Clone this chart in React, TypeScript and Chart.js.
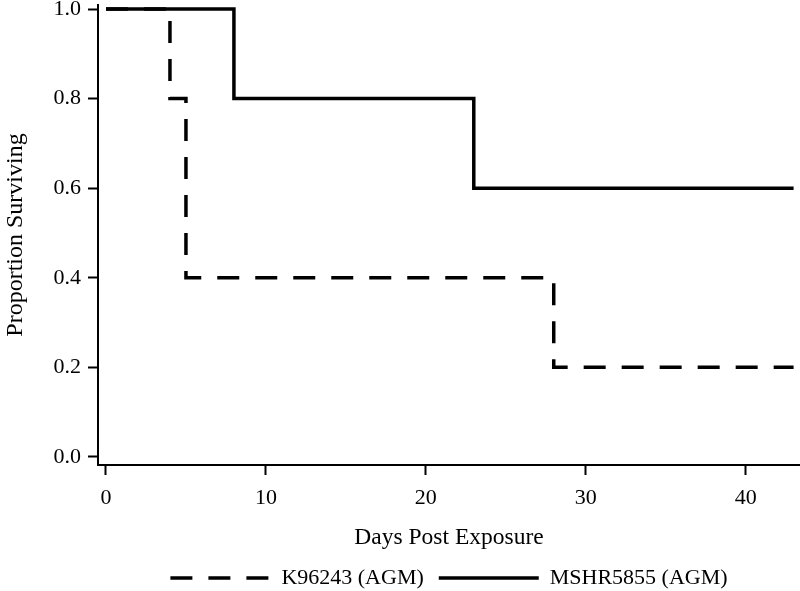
import React, { useEffect, useRef } from 'react';
import { Chart, registerables } from 'chart.js';

Chart.register(...registerables);

// ---- Data ----
const seriesNames = ['K96243 (AGM)', 'MSHR5855 (AGM)'];
const k96243Days = [0, 4, 5, 28, 43];
const k96243Surv = [1.0, 0.8, 0.4, 0.2, 0.2];
const mshr5855Days = [0, 8, 23, 43];
const mshr5855Surv = [1.0, 0.8, 0.6, 0.6];
const xTickValues = [0, 10, 20, 30, 40];
const yTickValues = [0.0, 0.2, 0.4, 0.6, 0.8, 1.0];
const xTitle = 'Days Post Exposure';
const yTitle = 'Proportion Surviving';

const FONT = "'Liberation Serif', 'Times New Roman', Times, serif";
const FS = 22;

export default function App() {
  const ref = useRef<HTMLCanvasElement | null>(null);

  useEffect(() => {
    if (!ref.current) return;
    const toPts = (xs: number[], ys: number[]) => xs.map((x, i) => ({ x, y: ys[i] }));
    const chart = new Chart(ref.current, {
      type: 'line',
      data: {
        datasets: [
          {
            label: seriesNames[0],
            data: toPts(k96243Days, k96243Surv),
            borderColor: '#000',
            backgroundColor: '#000',
            borderWidth: 3.5,
            borderDash: [22, 16],
            stepped: 'before',
            pointRadius: 0,
            fill: false,
          },
          {
            label: seriesNames[1],
            data: toPts(mshr5855Days, mshr5855Surv),
            borderColor: '#000',
            backgroundColor: '#000',
            borderWidth: 3.5,
            stepped: 'before',
            pointRadius: 0,
            fill: false,
          },
        ],
      },
      options: {
        animation: false,
        responsive: true,
        maintainAspectRatio: false,
        devicePixelRatio: 1,
        layout: { padding: { top: 5, left: 0, right: 0, bottom: -8 } },
        plugins: {
          tooltip: { enabled: false },
          legend: {
            position: 'bottom',
            fullSize: false,
            labels: {
              usePointStyle: true,
              pointStyle: 'line',
              pointStyleWidth: 100,
              color: '#000',
              padding: 15,
              font: { family: FONT, size: FS },
              generateLabels: (c: any) => {
                const items = Chart.defaults.plugins.legend.labels.generateLabels(c);
                return items.map((it: any) => {
                  const ds: any = c.data.datasets[it.datasetIndex];
                  return {
                    ...it,
                    lineDash: ds.borderDash || [],
                    lineWidth: ds.borderWidth,
                    strokeStyle: ds.borderColor,
                    fillStyle: ds.borderColor,
                    pointStyle: 'line',
                  };
                });
              },
            },
          },
        },
        scales: {
          x: {
            type: 'linear',
            min: -0.5,
            max: 43.4,
            afterBuildTicks: (s: any) => {
              s.ticks = xTickValues.map((v) => ({ value: v }));
            },
            afterFit: (s: any) => {
              s.height = 87;
              s.paddingLeft = 0;
              s.paddingRight = 0;
            },
            border: { display: true, color: '#000', width: 2 },
            grid: {
              drawOnChartArea: false,
              drawTicks: true,
              tickLength: 10,
              tickWidth: 2,
              tickColor: '#000',
              color: '#000',
            },
            ticks: {
              color: '#000',
              padding: 10,
              maxRotation: 0,
              font: { family: FONT, size: FS },
              callback: (v: any) => String(v),
            },
            title: {
              display: true,
              text: xTitle,
              color: '#000',
              font: { family: FONT, size: 23.5 },
              padding: { top: 10, bottom: 0 },
            },
          },
          y: {
            type: 'linear',
            min: -0.018,
            max: 1.009,
            afterBuildTicks: (s: any) => {
              s.ticks = yTickValues.map((v) => ({ value: v }));
            },
            afterFit: (s: any) => {
              s.width = 98;
              s.paddingTop = 0;
              s.paddingBottom = 0;
            },
            border: { display: true, color: '#000', width: 2 },
            grid: {
              drawOnChartArea: false,
              drawTicks: true,
              tickLength: 10,
              tickWidth: 2,
              tickColor: '#000',
              color: '#000',
            },
            ticks: {
              color: '#000',
              padding: 7,
              font: { family: FONT, size: FS },
              callback: (v: any) => Number(v).toFixed(1),
            },
            title: {
              display: true,
              text: yTitle,
              color: '#000',
              font: { family: FONT, size: 24 },
              padding: { top: 1, bottom: 0 },
            },
          },
        },
      },
    });
    return () => chart.destroy();
  }, []);

  return (
    <div style={{ position: 'absolute', left: 0, top: 0, width: 800, height: 591, background: '#fff' }}>
      <canvas ref={ref} />
    </div>
  );
}
